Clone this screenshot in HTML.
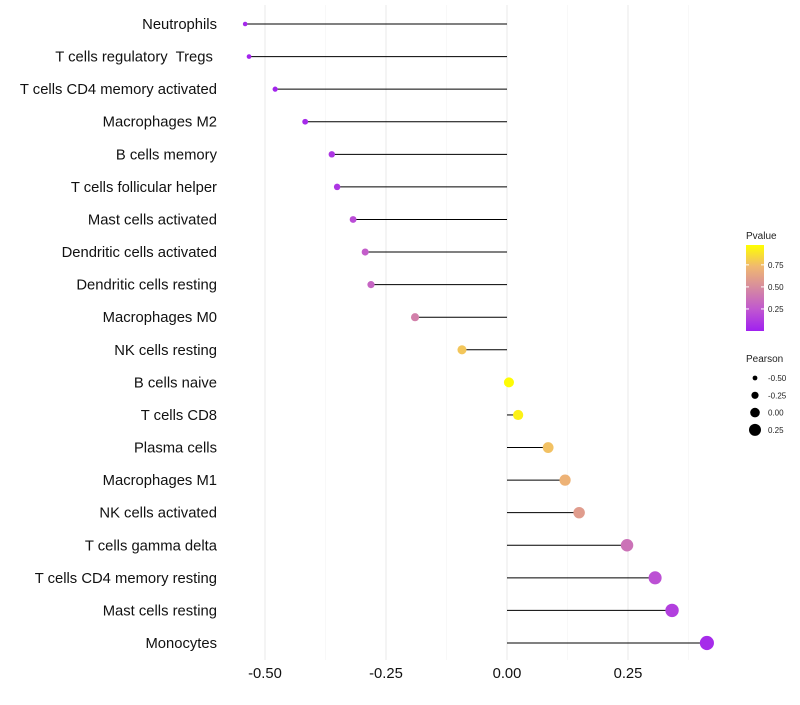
<!DOCTYPE html>
<html><head><meta charset="utf-8"><style>
body{margin:0;background:#fff;}
text{font-family:"Liberation Sans",sans-serif;white-space:pre;}
</style></head><body>
<svg id="chart" width="800" height="700"></svg>
<script>
const categories=["Neutrophils","T cells regulatory  Tregs ","T cells CD4 memory activated","Macrophages M2","B cells memory","T cells follicular helper","Mast cells activated","Dendritic cells activated","Dendritic cells resting","Macrophages M0","NK cells resting","B cells naive","T cells CD8","Plasma cells","Macrophages M1","NK cells activated","T cells gamma delta","T cells CD4 memory resting","Mast cells resting","Monocytes"];
const pearson=[-0.541,-0.533,-0.479,-0.417,-0.362,-0.351,-0.318,-0.293,-0.281,-0.190,-0.093,0.004,0.023,0.085,0.120,0.149,0.248,0.306,0.341,0.413];
const pvalue=[0.04,0.02,0.02,0.05,0.1,0.1,0.2,0.28,0.32,0.45,0.8,0.99,0.95,0.78,0.72,0.6,0.38,0.22,0.14,0.05];
const xTicks=[-0.5,-0.25,0,0.25];
const xTickLabels=["-0.50","-0.25","0.00","0.25"];
const pTicks=[0.25,0.5,0.75];
const sizeLegend=[-0.5,-0.25,0,0.25];
const NS="http://www.w3.org/2000/svg";
const svg=document.getElementById('chart');
function el(t,a,p){const e=document.createElementNS(NS,t);for(const k in a)e.setAttribute(k,a[k]);(p||svg).appendChild(e);return e;}
const x=v=>507+v*484;
const y=i=>24+i*(643-24)/19;
const r=v=>5+5*v;
const stops=[[0,[160,32,240]],[0.25,[192,87,208]],[0.5,[214,138,160]],[0.75,[240,184,112]],[1,[255,255,0]]];
function col(p){for(let i=1;i<stops.length;i++){if(p<=stops[i][0]){const a=stops[i-1],b=stops[i];const t=(p-a[0])/(b[0]-a[0]);return 'rgb('+a[1].map((c,j)=>Math.round(c+(b[1][j]-c)*t)).join(',')+')';}}return 'rgb(255,255,0)';}
for(let v=-0.5;v<=0.4;v+=0.125){const major=xTicks.some(t=>Math.abs(t-v)<1e-9);
const g=el('line',{x1:x(v),x2:x(v),y1:5,y2:660,stroke:major?'#ebebeb':'#f3f3f3','stroke-width':major?1.1:0.6});
}
xTicks.forEach((t,i)=>{const tx=el('text',{x:x(t),y:678,'text-anchor':'middle','font-size':14.8,fill:'#111'});tx.textContent=xTickLabels[i];
});
categories.forEach((c,i)=>{
const lb=el('text',{x:217,y:y(i)+5,'text-anchor':'end','font-size':14.8,fill:'#111'});lb.textContent=c;

const ln=el('line',{x1:x(0),x2:x(pearson[i]),y1:y(i),y2:y(i),stroke:'#000','stroke-width':1});

const pt=el('circle',{cx:x(pearson[i]),cy:y(i),r:r(pearson[i]),fill:col(pvalue[i])});

});
const t1=el('text',{x:746,y:239,'font-size':10,fill:'#222'});t1.textContent='Pvalue';

const defs=el('defs',{});const lg=el('linearGradient',{id:'pg',x1:0,y1:1,x2:0,y2:0},defs);
stops.forEach(s=>el('stop',{offset:s[0],'stop-color':'rgb('+s[1].join(',')+')'},lg));
const bar=el('rect',{x:746,y:245,width:18,height:86,fill:'url(#pg)'});

const py=p=>331-p*86/0.975;
pTicks.forEach(p=>{el('line',{x1:746,x2:749,y1:py(p),y2:py(p),stroke:'#fff'});el('line',{x1:761,x2:764,y1:py(p),y2:py(p),stroke:'#fff'});
const t=el('text',{x:768,y:py(p)+3,'font-size':8,fill:'#222'});t.textContent=p.toFixed(2);
});
const t2=el('text',{x:746,y:362,'font-size':10,fill:'#222'});t2.textContent='Pearson';

sizeLegend.forEach((v,i)=>{const cy=378+i*17.3;
const c=el('circle',{cx:755,cy:cy,r:4.8+4.8*v,fill:'#000'});

const t=el('text',{x:768,y:cy+3,'font-size':8,fill:'#222'});t.textContent=v.toFixed(2);
});
</script>
</body></html>
